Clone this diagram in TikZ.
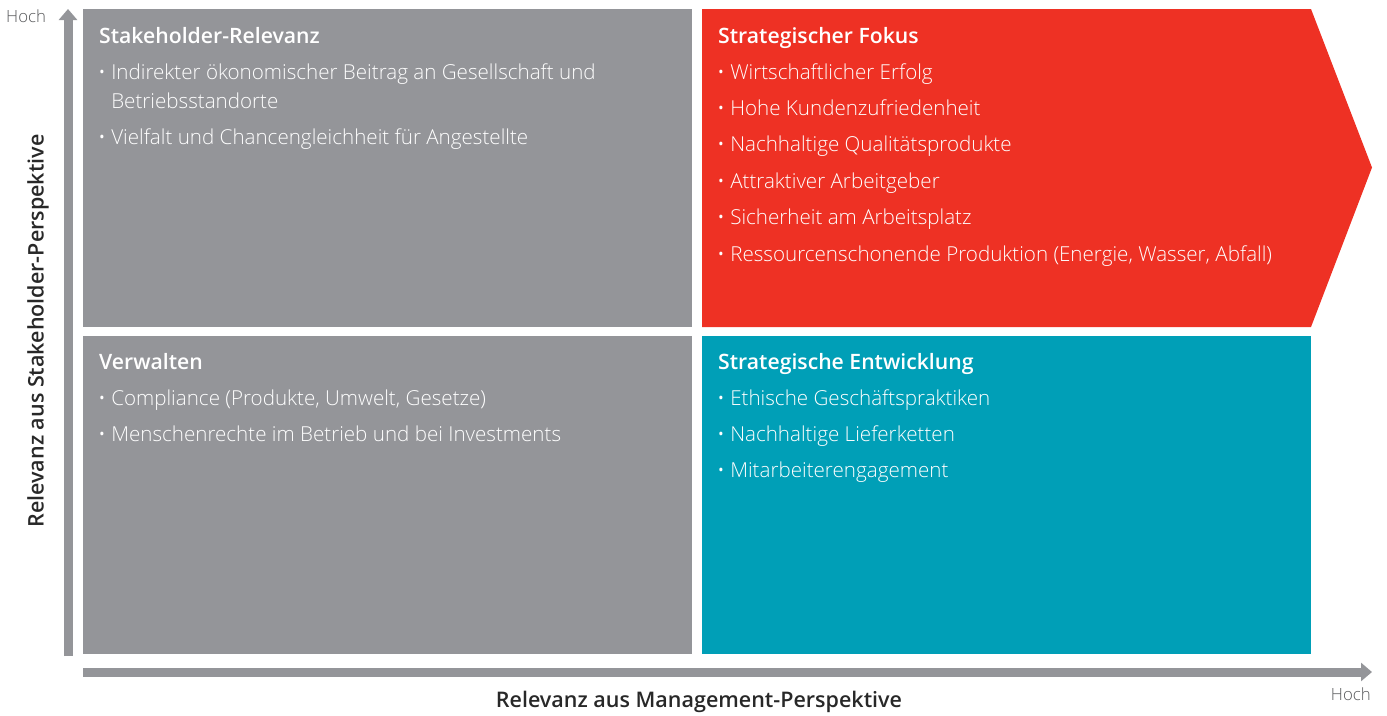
\documentclass[tikz,border=0pt]{standalone}
\usepackage{fontspec}
\setmainfont{Open Sans}[UprightFont=* Light,BoldFont=* Semibold]
\newfontfamily\boldsans{Open Sans}[UprightFont=* Semibold]
\usetikzlibrary{arrows.meta}
\definecolor{quadgray}{RGB}{148,149,153}
\definecolor{fokusred}{RGB}{238,49,36}
\definecolor{entwteal}{RGB}{0,159,183}
\definecolor{axisgray}{RGB}{148,149,153}
\definecolor{labelgray}{RGB}{88,89,91}
\definecolor{captiongray}{RGB}{40,40,40}
\tikzset{
  quad/.style={rectangle, inner sep=0pt, minimum width=609pt, minimum height=318pt, anchor=north west},
  quadtitle/.style={anchor=base west, inner sep=0pt, text=white, font=\boldsans\fontsize{21.2}{25}\selectfont},
  quaditem/.style={anchor=base west, inner sep=0pt, text=white, font=\fontsize{20.6}{25}\selectfont},
  axis/.style={draw=axisgray, line width=9pt, -{Triangle[width=18pt,length=11pt]}},
  axiscaption/.style={inner sep=0pt, text=captiongray, font=\boldsans\fontsize{21.5}{25}\selectfont},
  hoch/.style={inner sep=0pt, text=labelgray, font=\fontsize{16.8}{20}\selectfont}
}
\begin{document}
\begin{tikzpicture}[x=1pt,y=-1pt]
\useasboundingbox (0,0) rectangle (1387,715);
% quadrants
\node[quad, fill=quadgray] (relevanz) at (83,9) {};
\node[quad, fill=quadgray] (verwalten) at (83,336) {};
\node[quad, fill=entwteal] (entwicklung) at (702,336) {};
\fill[fokusred] (702,9) coordinate (fokus) -- (1311,9) -- (1372,167.5) -- (1311,327) -- (702,327) -- cycle;
% axes
\coordinate (yfoot) at (68,656);
\coordinate (ytop) at (68,9);
\coordinate (xfoot) at (83,672);
\coordinate (xtip) at (1372,672);
\draw[axis] (yfoot) -- (ytop);
\draw[axis] (xfoot) -- (xtip);
\node[hoch, anchor=base west] (hochy) at (6,22) {Hoch};
\node[hoch, anchor=base east] (hochx) at (1371,700) {Hoch};
\node[axiscaption, rotate=90] (ycap) at (38,331) {Relevanz aus Stakeholder-Perspektive};
\node[axiscaption] (xcap) at (699,702) {Relevanz aus Management-Perspektive};
% Stakeholder-Relevanz
\node[quadtitle] (t1) at (99,43) {Stakeholder-Relevanz};
\node[quaditem] (r1) at (98,79) {\textbullet\ Indirekter ökonomischer Beitrag an Gesellschaft und};
\node[quaditem] (r2) at (98,108) {\phantom{\textbullet\ }Betriebsstandorte};
\node[quaditem] (r3) at (98,144) {\textbullet\ Vielfalt und Chancengleichheit für Angestellte};
% Strategischer Fokus
\node[quadtitle] (t2) at (718,43) {Strategischer Fokus};
\foreach \i/\txt in {0/Wirtschaftlicher Erfolg, 1/Hohe Kundenzufriedenheit, 2/Nachhaltige Qualitätsprodukte,
  3/Attraktiver Arbeitgeber, 4/Sicherheit am Arbeitsplatz,
  5/{Ressourcenschonende Produktion (Energie, Wasser, Abfall)}}
  \node[quaditem] (f\i) at (717,79+36.4*\i) {\textbullet\ \txt};
% Verwalten
\node[quadtitle] (t3) at (99,369) {Verwalten};
\node[quaditem] (v0) at (98,405) {\textbullet\ Compliance (Produkte, Umwelt, Gesetze)};
\node[quaditem] (v1) at (98,441) {\textbullet\ Menschenrechte im Betrieb und bei Investments};
% Strategische Entwicklung
\node[quadtitle] (t4) at (718,369) {Strategische Entwicklung};
\foreach \i/\txt in {0/Ethische Geschäftspraktiken, 1/Nachhaltige Lieferketten, 2/Mitarbeiterengagement}
  \node[quaditem] (e\i) at (717,405+36*\i) {\textbullet\ \txt};
\end{tikzpicture}
\end{document}
